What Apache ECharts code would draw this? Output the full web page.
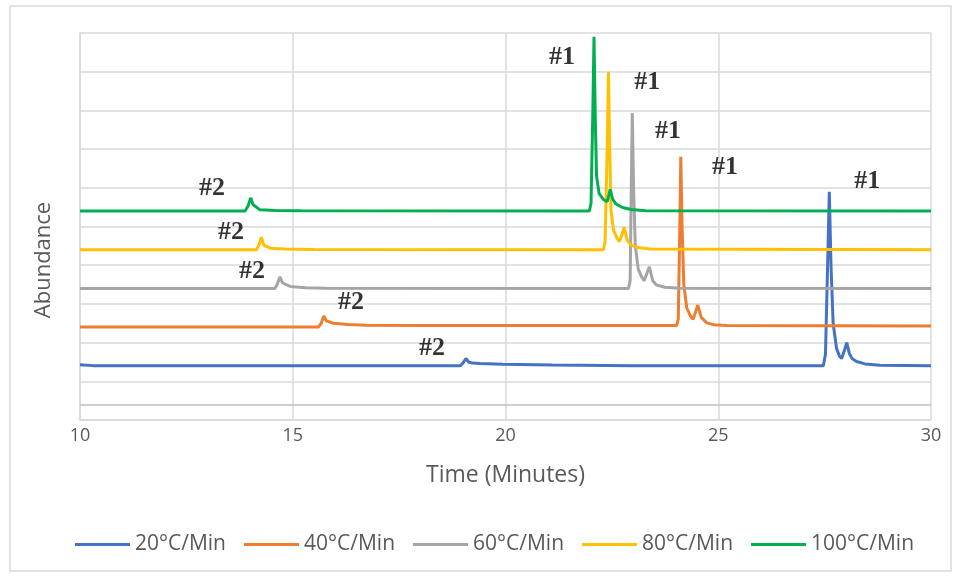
<!DOCTYPE html>
<html>
<head>
<meta charset="utf-8">
<title>Chromatograms at different heating rates</title>
<script src="https://cdn.jsdelivr.net/npm/echarts@6/dist/echarts.min.js"></script>
<style>
  html, body { margin: 0; padding: 0; background: #ffffff; }
  #chart { width: 961px; height: 576px; }
</style>
</head>
<body>
<div id="chart"></div>
<script>
// Heating-rate series names
const seriesNames = ['20°C/Min', '40°C/Min', '60°C/Min', '80°C/Min', '100°C/Min'];
const seriesColors = ['#4472C4', '#ED7D31', '#A5A5A5', '#FFC000', '#00B050'];

// Offset chromatograms: [time (min), abundance (offset units)]
const trace20 = [
  [10, 14.3], [10.3, 14.05], [18.93, 14.0], [19.0, 14.7], [19.07, 15.9], [19.13, 15.0],
  [19.22, 14.7], [19.4, 14.6], [19.94, 14.4], [21.1, 14.2], [23, 14.05], [27.47, 14.0],
  [27.52, 17], [27.57, 40], [27.61, 59], [27.65, 40], [27.7, 25], [27.78, 18.5],
  [27.85, 16.5], [27.9, 15.9], [27.96, 17.8], [28.02, 20.0], [28.08, 17.2], [28.15, 15.8],
  [28.25, 15.1], [28.45, 14.5], [28.8, 14.15], [30, 14.05]
];
const trace40 = [
  [10, 24.0], [15.6, 24.0], [15.67, 25.0], [15.73, 26.9], [15.79, 25.6], [15.95, 25.0],
  [16.3, 24.7], [16.74, 24.5], [18, 24.45], [20, 24.4], [24.02, 24.4],
  [24.06, 26], [24.09, 45], [24.12, 68], [24.15, 50], [24.19, 35], [24.26, 29],
  [24.34, 27], [24.41, 26.0], [24.47, 28.0], [24.52, 29.7], [24.6, 26.5], [24.73, 25.1],
  [24.9, 24.6], [25.2, 24.4], [30, 24.3]
];
const trace60 = [
  [10, 34.0], [14.58, 34.0], [14.64, 35.2], [14.70, 37.0], [14.76, 35.4], [14.94, 34.5],
  [15.3, 34.2], [15.8, 34.05], [22.89, 34.0],
  [22.93, 36], [22.95, 55], [22.98, 79.3], [23.01, 60], [23.05, 45], [23.12, 39],
  [23.2, 37], [23.26, 36.0], [23.32, 37.8], [23.38, 39.6], [23.46, 36], [23.55, 34.9],
  [23.75, 34.3], [24.1, 34.05], [30, 34.0]
];
const trace80 = [
  [10, 44.0], [14.15, 44.0], [14.21, 45.3], [14.26, 47.2], [14.32, 45.2], [14.47, 44.4],
  [14.8, 44.2], [15.5, 44.05], [22.30, 44.0],
  [22.34, 46], [22.39, 70], [22.42, 90], [22.45, 70], [22.48, 54], [22.54, 49],
  [22.62, 47], [22.68, 46.1], [22.74, 48.0], [22.79, 49.8], [22.86, 46.5], [22.95, 45.2],
  [23.1, 44.6], [23.4, 44.2], [30, 44.0]
];
const trace100 = [
  [10, 54.0], [13.88, 54.0], [13.95, 55.3], [14.01, 57.4], [14.07, 55.6], [14.23, 54.3],
  [14.6, 54.15], [15.2, 54.05], [21.97, 54.0],
  [22.01, 56], [22.05, 78], [22.08, 99], [22.11, 78], [22.14, 63], [22.2, 58.5],
  [22.3, 57], [22.39, 56.4], [22.43, 58.2], [22.46, 59.6], [22.52, 57], [22.6, 55.8],
  [22.75, 54.9], [22.95, 54.4], [23.3, 54.1], [30, 54.0]
];
const traces = [trace20, trace40, trace60, trace80, trace100];

// Peak annotations: [time, abundance, text]
const peakLabels = [
  [21.33, 93.8, '#1'], [23.33, 87.3, '#1'], [23.82, 74.7, '#1'],
  [25.16, 65.4, '#1'], [28.50, 61.8, '#1'],
  [13.10, 59.9, '#2'], [13.55, 48.6, '#2'], [14.04, 38.5, '#2'],
  [16.37, 30.5, '#2'], [18.27, 18.6, '#2']
];

// Axis settings
const timeTicks = { min: 10, max: 30, step: 5 };
const abundanceTicks = { min: 0, max: 100, step: 10 };
const baselineLevel = 4;

const textFont = '"Open Sans", "Noto Sans", sans-serif';
const gridColor = '#d9d9d9';

const chart = echarts.init(document.getElementById('chart'), null, { renderer: 'canvas' });

const lineSeries = traces.map((data, i) => ({
  name: seriesNames[i],
  type: 'line',
  data: data,
  showSymbol: false,
  symbol: 'none',
  smooth: false,
  color: seriesColors[i],
  lineStyle: { width: 3, color: seriesColors[i] },
  emphasis: { disabled: true },
  z: 3 + i
}));

lineSeries[0].markLine = {
  silent: true,
  symbol: 'none',
  label: { show: false },
  lineStyle: { color: '#bfbfbf', width: 1.5, type: 'solid' },
  data: [{ yAxis: baselineLevel }],
  z: 1
};

const option = {
  backgroundColor: '#ffffff',
  animation: false,
  grid: { left: 80, right: 30, top: 33, bottom: 156, containLabel: false },
  xAxis: {
    type: 'value',
    min: timeTicks.min,
    max: timeTicks.max,
    interval: timeTicks.step,
    name: 'Time (Minutes)',
    nameLocation: 'middle',
    nameGap: 44,
    nameTextStyle: { fontFamily: textFont, fontSize: 23, color: '#595959' },
    axisLine: { show: true, lineStyle: { color: gridColor, width: 1.5 } },
    axisTick: { show: false },
    axisLabel: { fontFamily: textFont, fontSize: 18, color: '#595959', margin: 7 },
    splitLine: { show: true, lineStyle: { color: gridColor, width: 1.5 } }
  },
  yAxis: {
    type: 'value',
    min: abundanceTicks.min,
    max: abundanceTicks.max,
    interval: abundanceTicks.step,
    axisLine: { show: true, lineStyle: { color: gridColor, width: 1.5 } },
    axisTick: { show: false },
    axisLabel: { show: false },
    splitLine: { show: true, lineStyle: { color: gridColor, width: 1.5 } }
  },
  legend: {
    data: seriesNames,
    left: 75,
    top: 534,
    padding: 0,
    icon: 'rect',
    itemWidth: 55,
    itemHeight: 3,
    itemGap: 18,
    textStyle: { fontFamily: textFont, fontSize: 21, color: '#595959' }
  },
  graphic: [{
    type: 'rect',
    shape: { x: 10, y: 6, width: 941, height: 565 },
    style: { fill: 'none', stroke: '#d9d9d9', lineWidth: 1.5 },
    silent: true,
    z: -10
  }, {
    // vertical axis title, sits a little below the plot's middle
    type: 'text',
    x: 44,
    y: 260,
    rotation: Math.PI / 2,
    style: {
      text: 'Abundance',
      fontFamily: textFont,
      fontSize: 22,
      fill: '#595959',
      align: 'center',
      verticalAlign: 'middle'
    },
    silent: true
  }],
  series: lineSeries.concat([{
    name: 'peaks',
    type: 'scatter',
    data: peakLabels,
    symbolSize: 0,
    silent: true,
    z: 10,
    label: {
      show: true,
      position: 'inside',
      formatter: p => p.data[2],
      fontFamily: '"Liberation Serif", "DejaVu Serif", serif',
      fontWeight: 'bold',
      fontSize: 26,
      color: '#000000'
    }
  }])
};

chart.setOption(option);
</script>
</body>
</html>
